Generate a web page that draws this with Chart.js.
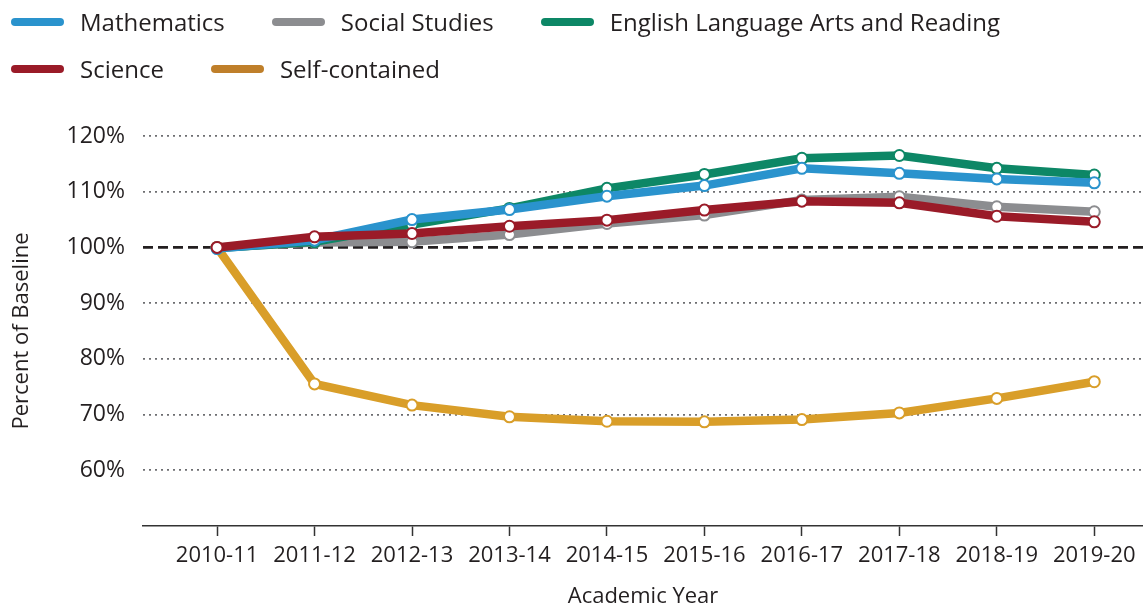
<!DOCTYPE html>
<html>
<head>
<meta charset="utf-8">
<script src="https://cdn.jsdelivr.net/npm/chart.js@4.4.1/dist/chart.umd.min.js"></script>
<style>
  body { margin: 0; background: #fff; }
  #wrap { position: relative; width: 1143px; height: 608px; }
  #legend {
    position: absolute; top: -2px; left: 11px; width: 1132px;
    display: flex; flex-wrap: wrap; column-gap: 47px;
    font-family: "Open Sans", sans-serif; font-size: 24px; color: #231f20;
  }
  .item { display: flex; align-items: center; height: 47px; }
  .swatch { width: 53px; height: 8px; border-radius: 4px; margin-right: 16px; }
</style>
</head>
<body>
<div id="wrap">
  <canvas id="trendChart" width="1143" height="608"></canvas>
  <div id="legend"></div>
</div>
<script>
/****************Data****************/
const years = ["2010-11", "2011-12", "2012-13", "2013-14", "2014-15",
  "2015-16", "2016-17", "2017-18", "2018-19", "2019-20"];
const yTicks = [60, 70, 80, 90, 100, 110, 120];

const mathematics = [99.8, 101.3, 105.0, 106.8, 109.2, 111.1, 114.2, 113.3, 112.3, 111.6];
const socialStudies = [100, 100.9, 101.0, 102.3, 104.3, 105.8, 108.5, 109.1, 107.3, 106.4];
const elaReading = [99.9, 101.0, 104.1, 107.0, 110.6, 113.1, 116.0, 116.5, 114.2, 113.0];
const science = [100, 101.9, 102.5, 103.8, 104.9, 106.7, 108.3, 108.0, 105.6, 104.6];
const selfContained = [100, 75.5, 71.7, 69.6, 68.8, 68.7, 69.1, 70.3, 72.9, 75.9];

/****************Series setup****************/
const series = [
  { label: "Mathematics", values: mathematics, color: "#2a93cd", key: "#2a93cd", order: 1 },
  { label: "Social Studies", values: socialStudies, color: "#8c8d90", key: "#8c8d90", order: 3 },
  { label: "English Language Arts and Reading", values: elaReading, color: "#0d8766", key: "#0d8766", order: 2 },
  { label: "Science", values: science, color: "#9a1b28", key: "#9a1b28", order: 0 },
  { label: "Self-contained", values: selfContained, color: "#d99e29", key: "#bf7f2a", order: 4 },
];

// html legend, two rows like the original
const legendBox = document.getElementById("legend");
series.forEach((s) => {
  const item = document.createElement("div");
  item.className = "item";
  item.innerHTML = '<span class="swatch" style="background:' + s.key + '"></span>' + s.label;
  legendBox.appendChild(item);
});

const datasets = series.map((s) => ({
  label: s.label,
  data: s.values.map((v, i) => ({ x: i, y: v })),
  borderColor: s.color,
  backgroundColor: s.color,
  borderWidth: 8.5,
  pointRadius: 5.5,
  pointBorderWidth: 2,
  pointBackgroundColor: "#ffffff",
  pointBorderColor: s.color,
  tension: 0,
  order: s.order,
  clip: false,
}));

/****************Chart****************/
const textColor = "#231f20";

new Chart(document.getElementById("trendChart"), {
  type: "line",
  data: { datasets: datasets },
  options: {
    responsive: false,
    animation: false,
    layout: { autoPadding: false, padding: { top: 136, right: 0, bottom: 0, left: 0 } },
    plugins: {
      legend: { display: false },
      tooltip: { enabled: false },
    },
    scales: {
      x: {
        type: "linear",
        min: -0.76,
        max: 9.5,
        afterBuildTicks: (scale) => {
          scale.ticks = years.map((y, i) => ({ value: i }));
        },
        afterFit: (scale) => {
          scale.height = 82;
          scale.paddingLeft = 0;
          scale.paddingRight = 0;
        },
        ticks: {
          padding: 7,
          color: textColor,
          font: { family: "Open Sans", size: 22 },
          callback: (value) => years[value],
        },
        grid: {
          drawOnChartArea: false,
          drawTicks: true,
          tickLength: 10,
          tickColor: "#333333",
          tickWidth: 1.5,
        },
        border: { color: "#333333", width: 1.5 },
        title: {
          display: true,
          text: "Academic Year",
          color: textColor,
          font: { family: "Open Sans", size: 22, lineHeight: 1 },
          padding: { top: 0, bottom: 0 },
        },
      },
      y: {
        min: 50,
        max: 120,
        afterBuildTicks: (scale) => {
          scale.ticks = [50].concat(yTicks).map((v) => ({ value: v }));
        },
        afterFit: (scale) => {
          scale.width = 143;
        },
        ticks: {
          padding: 18,
          color: textColor,
          font: { family: "Open Sans", size: 23 },
          callback: (value) => (value === 50 ? "" : value + "%"),
        },
        grid: {
          drawTicks: false,
          color: (ctx) => {
            const v = ctx.tick && ctx.tick.value;
            if (v === 50) return "rgba(0,0,0,0)";
            return v === 100 ? "#231f20" : "#6d6e71";
          },
          lineWidth: (ctx) => (ctx.tick && ctx.tick.value === 100 ? 2.8 : 1.8),
        },
        border: {
          display: false,
          dash: (ctx) => (ctx.tick && ctx.tick.value === 100 ? [10, 5] : [2, 4]),
        },
        title: {
          display: true,
          text: "Percent of Baseline",
          color: textColor,
          font: { family: "Open Sans", size: 22 },
          padding: { top: 9, bottom: 0 },
        },
      },
    },
  },
});
</script>
</body>
</html>
